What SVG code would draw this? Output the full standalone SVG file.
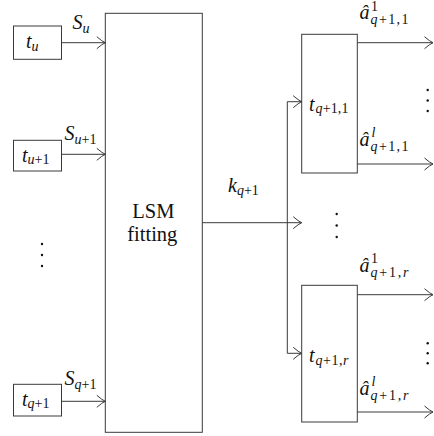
<svg xmlns="http://www.w3.org/2000/svg" width="434" height="436" viewBox="0 0 434 436">
<style>
rect{fill:#fff;stroke:#3a3a3a;stroke-width:1}
.c path{fill:none;stroke:#3a3a3a;stroke-width:1}
text{fill:#111;font-family:'Liberation Serif','DejaVu Serif',serif}
.m{font-size:20px;font-style:italic}
.s{font-size:14px}
.i{font-style:italic}
.n{font-style:normal}
.up{font-size:20.5px}
.dots circle{fill:#111}
</style>
<defs>
<marker id="arr" viewBox="-10 -7 11 14" refX="0" refY="0" markerWidth="11" markerHeight="14" markerUnits="userSpaceOnUse" orient="auto">
<path d="M-8.5,-6 Q-3,-1.2 0,0 Q-3,1.2 -8.5,6" fill="none" stroke="#3a3a3a" stroke-width="1"/>
</marker>
</defs>
<g id="node-tu">
<rect x="13.5" y="26" width="48" height="33.3"/>
<text class="m" x="26" y="48">t<tspan class="s" dy="2.5">u</tspan></text>
</g>
<g id="node-tu1">
<rect x="13.5" y="140.3" width="48" height="30.7"/>
<text class="m" x="22" y="161.5">t<tspan class="s" dy="2.5">u<tspan class="n">+1</tspan></tspan></text>
</g>
<g id="node-tq1">
<rect x="13.5" y="384.3" width="48" height="31.7"/>
<text class="m" x="22" y="405.5">t<tspan class="s" dy="2.5">q<tspan class="n">+1</tspan></tspan></text>
</g>
<g id="node-lsm">
<rect x="105.3" y="13.3" width="97" height="419"/>
<text class="up" x="153.3" y="218.3" text-anchor="middle">LSM</text>
<text class="up" x="152.3" y="240.5" text-anchor="middle">fitting</text>
</g>
<g id="node-t1">
<rect x="301.7" y="34.3" width="55.6" height="138.7"/>
<text class="m" x="309" y="110.5">t</text>
<text class="s i" x="315.5" y="113" textLength="33">q<tspan class="n">+1,1</tspan></text>
</g>
<g id="node-tr">
<rect x="301.7" y="285.3" width="55.6" height="136.7"/>
<text class="m" x="309" y="362">t</text>
<text class="s i" x="315.5" y="364.5" textLength="33">q<tspan class="n">+1,</tspan>r</text>
</g>

<g id="connectors" class="c">
<path d="M61.5,42.7 H105.3" marker-end="url(#arr)"/>
<path d="M61.5,154.3 H105.3" marker-end="url(#arr)"/>
<path d="M61.5,401.3 H105.3" marker-end="url(#arr)"/>
<path d="M202.3,222.7 H301.7" marker-end="url(#arr)"/>
<path d="M287.3,101.7 V353.3"/>
<path d="M287.3,101.7 H301.7" marker-end="url(#arr)"/>
<path d="M287.3,353.3 H301.7" marker-end="url(#arr)"/>
<path d="M357.3,42.7 H433" marker-end="url(#arr)"/>
<path d="M357.3,164 H433" marker-end="url(#arr)"/>
<path d="M357.3,294.7 H433" marker-end="url(#arr)"/>
<path d="M357.3,412 H433" marker-end="url(#arr)"/>
</g>

<g id="labels">
<text class="m" x="72.5" y="29">S<tspan class="s" dy="4">u</tspan></text>
<text class="m" x="64.5" y="140">S<tspan class="s" dy="4">u<tspan class="n">+1</tspan></tspan></text>
<text class="m" x="64.5" y="384.5">S<tspan class="s" dy="4">q<tspan class="n">+1</tspan></tspan></text>
<text class="m" x="228" y="192">k<tspan class="s" dy="3">q<tspan class="n">+1</tspan></tspan></text>
<text class="m" x="359.5" y="19">â</text>
<text class="s" x="371" y="10.5">1</text>
<text class="s i" x="370.5" y="24" textLength="38">q<tspan class="n">+1,1</tspan></text>
<text class="m" x="359.5" y="145.5">â</text>
<text class="s i" x="371.5" y="136.5">l</text>
<text class="s i" x="370.5" y="150.5" textLength="38">q<tspan class="n">+1,1</tspan></text>
<text class="m" x="359.5" y="271.5">â</text>
<text class="s" x="371" y="263">1</text>
<text class="s i" x="370.5" y="276.5" textLength="38">q<tspan class="n">+1,</tspan>r</text>
<text class="m" x="359.5" y="395">â</text>
<text class="s i" x="371.5" y="386">l</text>
<text class="s i" x="370.5" y="400" textLength="38">q<tspan class="n">+1,</tspan>r</text>
</g>
<g class="dots">
<circle cx="42" cy="244" r="1.2"/><circle cx="42" cy="255" r="1.2"/><circle cx="42" cy="266" r="1.2"/>
<circle cx="336.7" cy="214" r="1.2"/><circle cx="336.7" cy="225.5" r="1.2"/><circle cx="336.7" cy="237" r="1.2"/>
<circle cx="427.7" cy="90" r="1.2"/><circle cx="427.7" cy="100.5" r="1.2"/><circle cx="427.7" cy="111" r="1.2"/>
<circle cx="427.7" cy="343.3" r="1.2"/><circle cx="427.7" cy="353.3" r="1.2"/><circle cx="427.7" cy="363.3" r="1.2"/>
</g>
</svg>
